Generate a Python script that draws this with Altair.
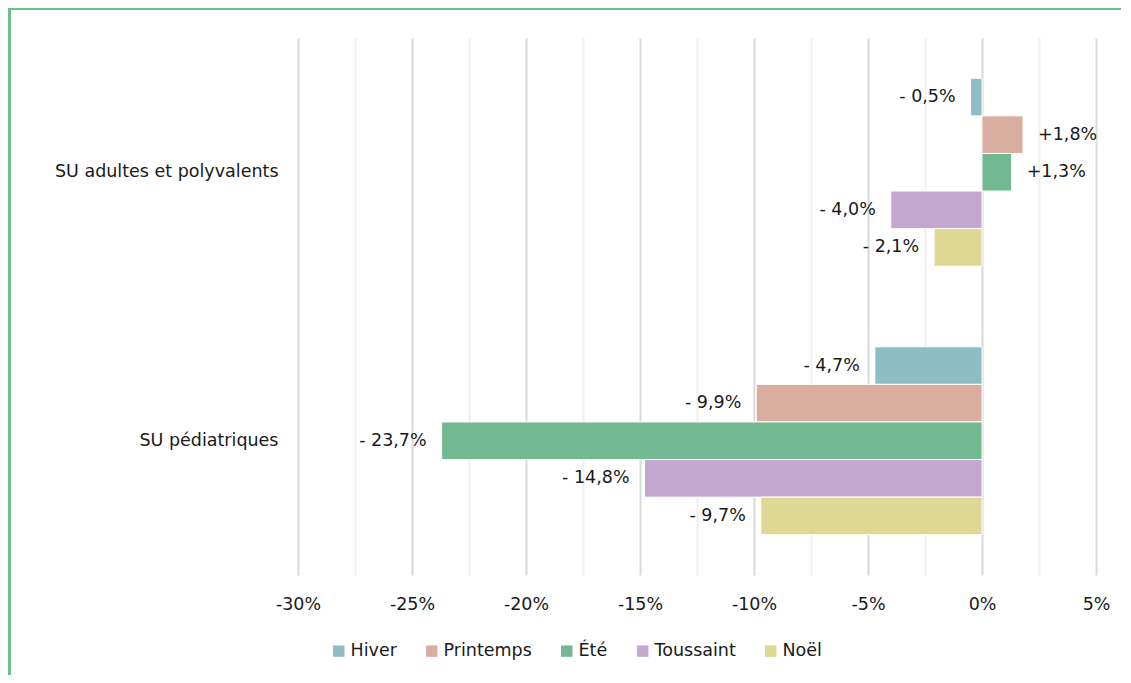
import altair as alt
import pandas as pd

categories = ["SU adultes et polyvalents", "SU pédiatriques"]
series = ["Hiver", "Printemps", "Été", "Toussaint", "Noël"]
colors = ["#8FBDC5", "#D9ADA0", "#72B891", "#C3A7CE", "#DFD794"]
values_adultes = [-0.5, 1.8, 1.3, -4.0, -2.1]
values_pediatriques = [-4.7, -9.9, -23.7, -14.8, -9.7]
tick_values = [-30, -27.5, -25, -22.5, -20, -17.5, -15, -12.5, -10, -7.5, -5, -2.5, 0, 2.5, 5]

rows = []
for cat, vals in zip(categories, [values_adultes, values_pediatriques]):
    for s, v in zip(series, vals):
        txt = ("+" if v > 0 else "- ") + f"{abs(v):.1f}".replace(".", ",") + "%"
        rows.append({"cat": cat, "serie": s, "val": v, "label": txt})
df = pd.DataFrame(rows)

FONT = "DejaVu Sans"
FS = 17.5
TXT = "#1a1a1a"

y_enc = alt.Y("cat:N", sort=categories, title=None,
              scale=alt.Scale(paddingInner=0.3, paddingOuter=0.15),
              axis=alt.Axis(domain=False, ticks=False, grid=False, labelPadding=20,
                            labelFont=FONT, labelFontSize=FS, labelColor=TXT,
                            labelAlign="right", labelLimit=400))
yoff = alt.YOffset("serie:N", sort=series, scale=alt.Scale(paddingInner=0, paddingOuter=0))
x_enc = alt.X("val:Q", title=None,
              scale=alt.Scale(domain=[-30, 5], nice=False, zero=False),
              axis=alt.Axis(values=tick_values, domain=False, ticks=False,
                            labelExpr="datum.value % 5 === 0 ? datum.value + '%' : ''",
                            labelFont=FONT, labelFontSize=FS, labelColor=TXT,
                            labelPadding=20, labelFlush=False,
                            gridColor={"condition": {"test": "datum.value % 5 === 0", "value": "#D9D9D9"},
                                       "value": "#F0F0F0"},
                            gridWidth=2))

base = alt.Chart(df)

bars = base.mark_bar(stroke="white", strokeWidth=1).encode(
    x=x_enc,
    y=y_enc,
    yOffset=yoff,
    color=alt.Color("serie:N", sort=series,
                    scale=alt.Scale(domain=series, range=colors),
                    legend=alt.Legend(title=None, orient="none", direction="horizontal",
                                      legendX=32, legendY=604,
                                      symbolType="square", symbolSize=130, symbolStrokeWidth=0,
                                      labelFont=FONT, labelFontSize=FS, labelColor=TXT,
                                      labelOffset=3, columnPadding=26)),
)

neg = base.transform_filter("datum.val < 0").mark_text(
    align="right", baseline="middle", dx=-15, font=FONT, fontSize=FS, color=TXT
).encode(x="val:Q", y=alt.Y("cat:N", sort=categories), yOffset=alt.YOffset("serie:N", sort=series), text="label:N")

pos = base.transform_filter("datum.val > 0").mark_text(
    align="left", baseline="middle", dx=15, font=FONT, fontSize=FS, color=TXT
).encode(x="val:Q", y=alt.Y("cat:N", sort=categories), yOffset=alt.YOffset("serie:N", sort=series), text="label:N")

frame_left = alt.Chart(df).mark_rule(color="#6DBF8E", strokeWidth=3, clip=False).encode(
    x=alt.value(-289), y=alt.value(-30), y2=alt.value(700))
frame_top = alt.Chart(df).mark_rule(color="#6DBF8E", strokeWidth=2, clip=False).encode(
    x=alt.value(-290), x2=alt.value(900), y=alt.value(-29))

chart = alt.layer(bars, neg, pos, frame_left, frame_top).properties(
    width=798, height=537,
    autosize=alt.AutoSizeParams(type="none"),
    padding={"left": 290, "top": 30, "right": 25, "bottom": 100},
).configure(font=FONT).configure_view(stroke=None)

chart.save("out.html", embed_options={"renderer": "svg", "actions": False})
